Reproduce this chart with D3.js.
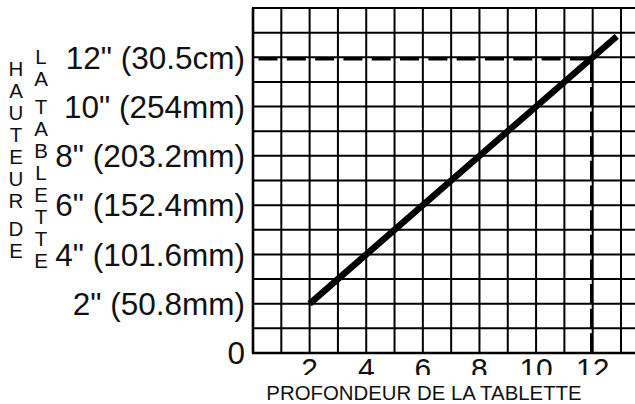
<!DOCTYPE html>
<html>
<head>
<meta charset="utf-8">
<script src="https://cdn.jsdelivr.net/npm/d3@7"></script>
<style>
  html, body { margin: 0; padding: 0; background: #fff; }
  svg { display: block; font-family: "Liberation Sans", Arial, Helvetica, sans-serif; }
</style>
</head>
<body>
<svg id="chart" width="635" height="404"></svg>
<script>
// ---- data ----
const xTickValues = [2, 4, 6, 8, 10, 12];
const xTickLabels = ["2", "4", "6", "8", "10", "12"];
const yTickValues = [0, 2, 4, 6, 8, 10, 12];
const yTickLabels = ["0", '2" (50.8mm)', '4" (101.6mm)', '6" (152.4mm)', '8" (203.2mm)', '10" (254mm)', '12" (30.5cm)'];
const lineDepth = [2, 12.85];
const lineHeight = [2, 12.85];
const targetDepth = 12;
const targetHeight = 12;
const xTitle = "PROFONDEUR DE LA TABLETTE";
const yTitleCol1 = ["HAUTEUR", "DE"];
const yTitleCol2 = ["LA", "TABLETTE"];

// ---- layout ----
const W = 635, H = 404;
const svg = d3.select("#chart");
const x = d3.scaleLinear().domain([0, 13]).range([253, 621]);
const y = d3.scaleLinear().domain([0, 14]).range([353, 8]);

// grid
const grid = svg.append("g").attr("stroke", "#000").attr("stroke-width", 2);
grid.selectAll("line.v").data(d3.range(0, 14)).join("line")
  .attr("class", "v")
  .attr("x1", d => x(d)).attr("x2", d => x(d))
  .attr("y1", y(14)).attr("y2", y(0))
  .attr("stroke-width", d => d === 0 ? 2.6 : 2);
grid.selectAll("line.h").data(d3.range(0, 15)).join("line")
  .attr("class", "h")
  .attr("x1", x(0) - 1).attr("x2", W)
  .attr("y1", d => y(d)).attr("y2", d => y(d))
  .attr("stroke-width", d => d === 0 ? 2.6 : 2);

// dashed reference lines
const ref = svg.append("g").attr("transform", "translate(-1.5,2)")
  .attr("stroke", "#000").attr("stroke-width", 2.4).attr("fill", "none");
ref.append("line")
  .attr("x1", x(0)).attr("x2", x(targetDepth))
  .attr("y1", y(targetHeight)).attr("y2", y(targetHeight))
  .attr("stroke-dasharray", "0,7,19,2.31");
ref.append("line")
  .attr("x1", x(targetDepth)).attr("x2", x(targetDepth))
  .attr("y1", y(targetHeight)).attr("y2", y(0))
  .attr("stroke-dasharray", "0,3,20,1.64");

// main line
const pts = lineDepth.map((d, i) => [d, lineHeight[i]]);
svg.append("path")
  .datum(pts)
  .attr("d", d3.line().x(d => x(d[0])).y(d => y(d[1])))
  .attr("stroke", "#000").attr("stroke-width", 6.5).attr("fill", "none")
  .attr("stroke-linecap", "butt");

// y tick labels
svg.append("g").selectAll("text").data(yTickValues).join("text")
  .attr("x", 245)
  .attr("y", d => y(d))
  .attr("dy", "0.36em")
  .attr("text-anchor", "end")
  .attr("font-size", 31.5)
  .attr("fill", "#111")
  .text((d, i) => yTickLabels[i]);

// x tick labels (clipped at bottom as in original)
svg.append("defs").append("clipPath").attr("id", "xclip")
  .append("rect").attr("x", 0).attr("y", 0).attr("width", W).attr("height", 375);
svg.append("g").attr("clip-path", "url(#xclip)")
  .selectAll("text").data(xTickValues).join("text")
  .attr("x", d => x(d))
  .attr("y", 379)
  .attr("text-anchor", "middle")
  .attr("font-size", 30)
  .attr("fill", "#111")
  .text((d, i) => xTickLabels[i]);

// x title
svg.append("text")
  .attr("x", 424).attr("y", 400)
  .attr("text-anchor", "middle")
  .attr("font-size", 20.4)
  .attr("fill", "#111")
  .text(xTitle);

// y title: two vertical columns of stacked letters
function stackedColumn(words, cx, startY) {
  const step = 22, wordGap = 6;
  const g = svg.append("g").attr("font-size", 20.5).attr("fill", "#111").attr("text-anchor", "middle");
  let cy = startY;
  words.forEach((w, wi) => {
    if (wi > 0) cy += wordGap;
    for (const ch of w) {
      g.append("text").attr("x", cx).attr("y", cy).attr("dy", "0.36em").text(ch);
      cy += step;
    }
  });
}
stackedColumn(yTitleCol1, 16, 69);
stackedColumn(yTitleCol2, 41, 57);
</script>
</body>
</html>
